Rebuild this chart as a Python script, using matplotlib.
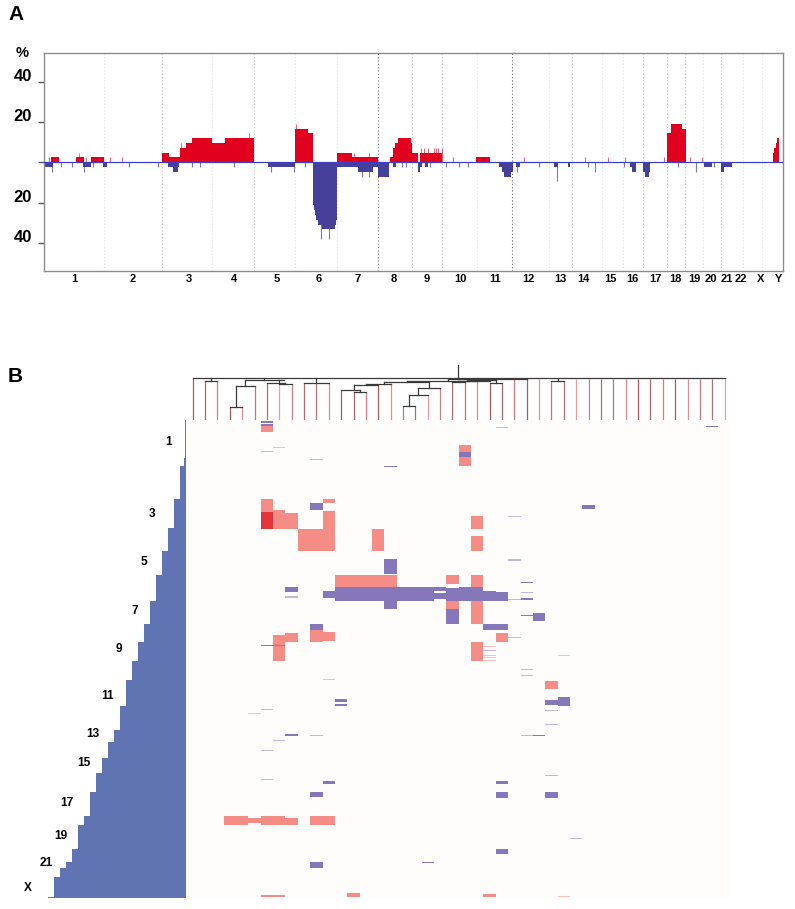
import matplotlib
matplotlib.use('Agg')
import matplotlib.pyplot as plt
from matplotlib.colors import to_rgba

plt.rcParams['font.family'] = ['Liberation Sans', 'DejaVu Sans']
plt.rcParams['font.weight'] = 'bold'

W, H = 795, 909

# === Panel A: gain / loss frequency along the genome (x in map units, y in %) ===
chrom_names = ['1', '2', '3', '4', '5', '6', '7', '8', '9', '10', '11', '12', '13', '14', '15', '16',
               '17', '18', '19', '20', '21', '22', 'X', 'Y']
chrom_label_pos = [74, 133, 188.7, 234.3, 277, 319, 358, 394, 426.7, 460, 495, 528, 560.5, 583, 610,
                   632, 655, 675, 694.7, 710.7, 726.7, 740.7, 760.7, 778.3]
bounds_faint = [104, 212.3, 295.3, 337.3, 476.7, 548.7, 601.7, 623, 703.3, 743.3, 761.7]
bounds_mid = [162.3, 254, 412.3, 442.3, 572, 643.3, 667.3, 685.3, 721.3]
bounds_dark = [378.3, 512.3]

gain_start = [51, 76, 90.7, 162.3, 169.3, 180.3, 185.7, 192, 212.3, 225.3, 295.3, 308.3, 337.3, 352.3,
              390, 393.3, 395, 397.7, 411, 412.3, 420, 476, 667.3, 671, 682.3, 772.7, 774, 775.5, 776.5]
gain_end = [58.7, 84, 104, 169.3, 180.3, 185.7, 192, 212.3, 225.3, 254, 308.3, 312.7, 352.3, 378.3,
            393.3, 395, 397.7, 411, 412.3, 418.3, 442.3, 490, 671, 682.3, 686, 774, 775.5, 776.5, 778.7]
gain_pct = [2.4, 2.4, 2.4, 4.8, 2.4, 7.1, 9.5, 11.9, 9.5, 11.9, 16.7, 14.3, 4.8, 2.4,
            2.4, 7.1, 9.5, 11.9, 9.5, 4.8, 4.8, 2.4, 14.3, 19, 16.7, 4.8, 7.1, 9.5, 11.9]
gain_spike_pos = [48.5, 79, 85.5, 110, 122, 181, 248.7, 296.3, 354, 368.7, 420.5, 424, 428, 433.5, 436, 438,
                  441.5, 453.3, 524, 584.7, 608, 625.3, 664.3, 690, 702.3]
gain_spike_pct = [2.4, 4.8, 2.4, 2.4, 2.4, 9.5, 14.3, 19, 4.8, 4.8, 7.1, 7.1, 7.1, 7.1, 7.1, 7.1,
                  7.1, 2.4, 2.4, 2.4, 2.4, 2.4, 2.4, 2.4, 2.4]

loss_start = [44, 83.3, 103, 168, 173.3, 177.7, 268, 337.3, 358.3, 373.3, 378.3, 392.7,
              417.7, 420.3, 425, 499, 501.7, 504, 511.3, 515.7, 554, 568, 630, 631.7, 642.7, 644.5, 648.5,
              704, 721, 723.7,
              312.7, 313.7, 314.7, 316, 318.3, 321.7, 335.3, 336.3]
loss_end = [52.7, 91.3, 107.3, 173.3, 177.7, 179.3, 294.7, 358.3, 373.3, 378.3, 389.3, 396,
            420.3, 422, 427.7, 501.7, 504, 511.3, 513, 519.7, 558, 570, 631.7, 636, 644.5, 648.5, 650,
            712, 723.7, 731.7,
            313.7, 314.7, 316, 318.3, 321.7, 335.3, 336.3, 337.3]
loss_pct = [2.4, 2.4, 2.4, 2.4, 4.8, 2.4, 2.4, 2.4, 4.8, 2.4, 7.1, 2.4,
            4.8, 2.4, 2.4, 2.4, 4.8, 7.1, 4.8, 2.4, 2.4, 2.4, 2.4, 4.8, 4.8, 7.1, 4.8,
            2.4, 4.8, 2.4,
            21.4, 23.8, 26.2, 28.6, 31, 33.3, 31, 28.6]
loss_spike_pos = [52, 61.3, 72, 84, 93, 129.3, 157.7, 192.3, 200.3, 234.3, 270.7, 293.7, 304.7,
                  321, 329, 362.3, 368.7, 402, 406, 429.7, 445.7, 459, 468, 517.3, 539.3, 557.3, 587.7, 595.3,
                  623.8, 678, 696.3, 714.3]
loss_spike_pct = [4.8, 2.4, 2.4, 4.8, 2.4, 2.4, 2.4, 2.4, 2.4, 2.4, 4.8, 4.8, 2.4,
                  38.1, 38.1, 7.1, 7.1, 2.4, 2.4, 2.4, 2.4, 2.4, 2.4, 4.8, 2.4, 9.5, 2.4, 4.8,
                  2.4, 2.4, 4.8, 2.4]

pct_ticks = [40, 20, 0, -20, -40]
pct_labels = ['40', '20', '', '20', '40']

# === Panel B: left ideogram bar (one step per chromosome) ===
bar_row_start = [420, 457.7, 466, 499.3, 528.3, 550.7, 574.7, 601, 624, 642.3, 661.3, 680, 706.3, 730.3,
                 742, 757.7, 772.7, 791.7, 815.7, 825.3, 848.7, 862, 868, 876.7, 897.3]
bar_level = [0.1, 0.3, 1, 2, 3, 4, 5, 6, 7, 8, 9, 10, 11, 12, 13, 14, 15, 16, 17, 18, 19, 20, 21, 22, 23]
bar_row_end = 898
side_labels = ['1', '3', '5', '7', '9', '11', '13', '15', '17', '19', '21', 'X']
side_label_row = [441.7, 514, 562, 611, 649, 696, 734, 763, 803, 836, 863, 888]
side_label_level = [2.9, 5.6, 7, 8.4, 11.1, 13, 15.4, 17, 19.8, 20.8, 23.3, 26.3]

# === Panel B: altered regions, (sample column, first row, last row) ===
seg_red = [(6, 426, 432), (6, 499.3, 512.3), (7, 510, 512.3), (7, 512.3, 528.7), (8, 513, 528.7),
           (11, 499.3, 503.3), (11, 511, 550.7), (9, 528.7, 550.7), (10, 528.7, 550.7), (15, 528.7, 550.7),
           (22, 444.7, 452), (22, 457, 466), (23, 516.3, 529), (23, 536, 550.7),
           (12, 575, 587.3), (13, 575, 587.3), (14, 575, 587.3), (15, 575, 587.3), (16, 575, 587.3),
           (21, 575, 584), (21, 600.7, 609.3), (23, 575, 587.3), (23, 600.7, 624), (23, 642.3, 661),
           (25, 633.3, 642.3), (7, 634.7, 661), (8, 633.3, 642.3), (10, 630.3, 642.3), (11, 632.3, 641),
           (29, 681.3, 689.3), (3, 816, 825.3), (4, 816, 825.3), (5, 818, 823.3), (6, 816, 825.3),
           (7, 816, 825.3), (8, 818, 825.3), (10, 816, 825.3), (11, 816, 825.3),
           (6, 894.7, 897), (7, 895.3, 897), (13, 893.3, 897), (24, 894, 897)]
seg_dark_red = [(6, 512.3, 528.7)]
seg_blue = [(6, 421.3, 423), (6, 424, 426), (10, 503.3, 509.7), (22, 452, 457), (32, 505.3, 509),
            (16, 559, 574), (8, 587.3, 592.3), (11, 590.7, 597.7),
            (12, 587.3, 600.7), (13, 587.3, 600.7), (14, 587.3, 600.7), (15, 587.3, 600.7), (16, 587.3, 609),
            (17, 587.3, 600.7), (18, 587.3, 600.7), (19, 587.3, 600.7),
            (20, 586.7, 590.7), (20, 592.7, 599), (21, 588.3, 600.7), (21, 609.3, 624),
            (22, 587.3, 600.7), (23, 587.3, 600.7), (24, 590.7, 600.7), (25, 591.7, 600.7),
            (24, 624, 630.3), (25, 624, 630.3), (27, 598, 599.5), (28, 612.7, 621), (10, 624, 630.3),
            (12, 699.3, 702.3), (12, 703.7, 705.7), (29, 700.3, 705.3), (30, 697, 706.3),
            (8, 734.3, 735.8), (10, 791.7, 797), (11, 781, 784.3), (10, 862, 867.7),
            (25, 781, 784.3), (25, 791.7, 798.3), (25, 849, 853.7), (29, 791.7, 798.3),
            (42, 426.2, 427.2), (6, 645.3, 646.2), (7, 645.3, 646.2), (19, 861.8, 862.8), (28, 734.8, 735.8),
            (27, 581.8, 582.8), (27, 614.5, 615.5), (16, 466.2, 467.2), (6, 421.3, 422)]
seg_faint_blue = [(6, 451.2, 452.2), (10, 458.8, 459.8), (25, 426.5, 427.5), (26, 515.8, 516.8), (26, 558.8, 559.8),
                  (8, 596, 597.7), (26, 598.5, 599.5), (26, 636.5, 637.5), (26, 559.8, 560.8), (27, 591.5, 592.5),
                  (27, 668.8, 669.8), (27, 674.8, 675.8), (29, 709.5, 710.5), (29, 723.5, 724.5),
                  (24, 649.5, 650.5), (6, 708.8, 709.8), (7, 739.8, 740.8), (6, 749.5, 750.5), (6, 778.8, 779.8),
                  (10, 734.8, 735.8), (27, 734.8, 735.8), (29, 775.2, 776.2), (31, 837.8, 838.8)]
seg_faint_red = [(7, 446.8, 447.8), (11, 679.2, 680.2), (5, 713.2, 714.2), (24, 646.2, 647.2),
                 (24, 654.5, 655.5), (24, 656.5, 657.5), (24, 660.2, 661.2), (30, 654.8, 655.8), (30, 895.8, 896.8)]

# === Panel B: dendrogram, leaf tops per sample and merges (left, right, row, row of stem top, stem column) ===
leaf_top = [378.3, 381.3, 381.3, 406.7, 406.7, 385.7, 382.7, 384, 384, 382.7, 382.7, 382.7, 389.7, 392.3,
            392.3, 385, 382.8, 406, 406, 394.7, 388.3, 382, 382, 380.5, 382.7, 382.7, 378.6, 378.6, 378.5,
            380.7, 380.7, 378.5, 378.5, 378.5, 378.5, 378.5, 378.5, 378.5, 378.5, 378.5, 378.5, 378.5, 378.5, 378.5]
leaf_colors = ['#b0585a', '#a8686a', '#d9787c', '#b05a5c', '#e09094', '#c87478', '#a87070', '#e89ca2', '#c08084',
               '#b86a6c', '#b87478', '#e0888c']
merges = [(1, 2, 381.3, 378.3, 1.5), (3, 4, 406.7, 385.7, 3.5), (3.5, 5, 385.7, 380.3, 4.25),
          (4.25, 7.4, 380.3, 379, 5.8), (7, 8, 384, 382.7, 7.5), (6, 7.5, 382.7, 379.5, 7.0),
          (9, 11, 382.7, 378.3, 10), (13, 14, 392.3, 389.7, 13.5), (12, 13.5, 389.7, 385, 13),
          (13, 15, 385, 383.8, 14), (14, 16, 383.8, 382.2, 15.5), (17, 18, 406, 394.7, 17.5),
          (17.5, 19, 394.7, 388.3, 18.25), (18.25, 20, 388.3, 382.2, 19.1), (15.5, 19.1, 382.2, 381, 17.3),
          (17.3, 24, 381, 379.6, 20.6), (21, 22, 382, 380.5, 21.5), (21.5, 23, 380.5, 379.6, 22.2),
          (24, 25, 382.7, 380, 24.5), (22.2, 24.5, 380, 378.8, 23.4), (20.6, 27, 379.3, 378.6, 24),
          (29, 30, 380.7, 378.5, 29.5), (0, 43, 378.3, 365, 21.47)]

red = '#e2001f'
blue = '#47409a'
cell_red = '#f58c85'
cell_blue = '#8577b9'
cell_dark = '#e4343b'
bar_blue = '#6074b4'
axis_gray = '#8c8c8c'


def px_axes(fig, x0, y0, x1, y1):
    # axes from image pixel box (y counted from the top)
    return fig.add_axes([x0 / W, 1 - y1 / H, (x1 - x0) / W, (y1 - y0) / H])


def draw_cells(ax, segs, color):
    for col, r0, r1 in segs:
        ax.bar(col, r1 - r0, bottom=r0, width=1.0, color=color, linewidth=0)


fig = plt.figure(figsize=(W / 100, H / 100), dpi=100)
fig.patch.set_facecolor('white')

# --- Panel A ---
ax = px_axes(fig, 44, 53, 782.5, 270.7)
ax.set_xlim(44, 782.5)
ax.set_ylim(-53.8, 54.2)

for xs, col in [(bounds_faint, '#e4e4e4'), (bounds_mid, '#c4c4c4'), (bounds_dark, '#6a6a6a')]:
    ax.vlines(xs, -53.8, 54.2, color=col, linewidth=0.8, linestyle=(0, (1, 2)), zorder=1)

g_w = [e - s for s, e in zip(gain_start, gain_end)]
l_w = [e - s for s, e in zip(loss_start, loss_end)]
ax.bar(gain_start, gain_pct, width=g_w, align='edge', color=red, linewidth=0, zorder=2)
ax.bar(loss_start, [-v for v in loss_pct], width=l_w, align='edge', color=blue, linewidth=0, zorder=2)
# single probes, one pixel wide
ax.vlines(gain_spike_pos, 0, gain_spike_pct, color=red, alpha=0.6, linewidth=0.8, zorder=2)
ax.vlines(loss_spike_pos, 0, [-v for v in loss_spike_pct], color=blue, alpha=0.7, linewidth=0.8, zorder=2)
ax.axhline(0, color='#3c40c4', linewidth=0.9, zorder=3)

for s in ax.spines.values():
    s.set_color(axis_gray)
    s.set_linewidth(1.0)
ax.set_yticks(pct_ticks)
ax.set_yticklabels([])
ax.tick_params(axis='y', length=4.2, width=1.0, color='#555555')
for v, lab in zip(pct_ticks, pct_labels):
    ax.annotate(lab, (44, v), xytext=(-8.5, 3.6), textcoords='offset points', ha='right', va='center',
                fontsize=12, fontweight='bold', annotation_clip=False)
ax.annotate('%', (44, 54.2), xytext=(-16, 0), textcoords='offset points', ha='center', va='center',
            fontsize=10.5, fontweight='bold', annotation_clip=False)
ax.set_xticks(chrom_label_pos)
ax.set_xticklabels(chrom_names, fontsize=8, fontweight='bold')
ax.tick_params(axis='x', length=0, pad=2.2)

fig.text(8 / W, 1 - 15 / H, 'A', fontsize=15, fontweight='bold', va='center', ha='left')
fig.text(8 / W, 1 - 376 / H, 'B', fontsize=15, fontweight='bold', va='center', ha='left')

# --- Panel B, left bar ---
ax_bar = px_axes(fig, 0, 420, 185.7, 898)
ax_bar.set_xlim(185.7 / 6, 0)
ax_bar.set_ylim(898, 420)
row_ends = bar_row_start[1:] + [bar_row_end]
for r0, r1, lev in zip(bar_row_start, row_ends, bar_level):
    ax_bar.barh(r0, lev, height=r1 - r0, align='edge', color=bar_blue, linewidth=0)
for lab, row, lev in zip(side_labels, side_label_row, side_label_level):
    ax_bar.text(lev, row, lab, fontsize=8.6, fontweight='bold', ha='center', va='center')
ax_bar.axis('off')

# --- Panel B, heatmap ---
col0, col_w = 192.7, 12.37
xlim_b = ((186 - col0) / col_w, (730 - col0) / col_w)
ax_h = px_axes(fig, 186, 420, 730, 898)
ax_h.set_xlim(*xlim_b)
ax_h.set_ylim(898, 420)
ax_h.set_facecolor('#fffdfc')
draw_cells(ax_h, seg_red, cell_red)
draw_cells(ax_h, seg_dark_red, cell_dark)
draw_cells(ax_h, seg_blue, cell_blue)
draw_cells(ax_h, seg_faint_blue, to_rgba(cell_blue, 0.5))
draw_cells(ax_h, seg_faint_red, to_rgba(cell_red, 0.55))
ax_h.set_xticks([])
ax_h.set_yticks([])
for s in ax_h.spines.values():
    s.set_visible(False)

# --- Panel B, dendrogram ---
ax_d = px_axes(fig, 186, 360, 730, 420)
ax_d.set_xlim(*xlim_b)
ax_d.set_ylim(420, 360)
ax_d.axis('off')
for i, top in enumerate(leaf_top):
    ax_d.plot([i, i], [420, top], color=leaf_colors[i % len(leaf_colors)], linewidth=0.9, solid_capstyle='butt')
for left, right, row, stem, stem_col in merges:
    ax_d.plot([left, right], [row, row], color='#3a3a3a', linewidth=0.9, solid_capstyle='projecting')
    ax_d.plot([stem_col, stem_col], [row, stem], color='#3a3a3a', linewidth=0.9)

fig.savefig('out.png', dpi=100)
